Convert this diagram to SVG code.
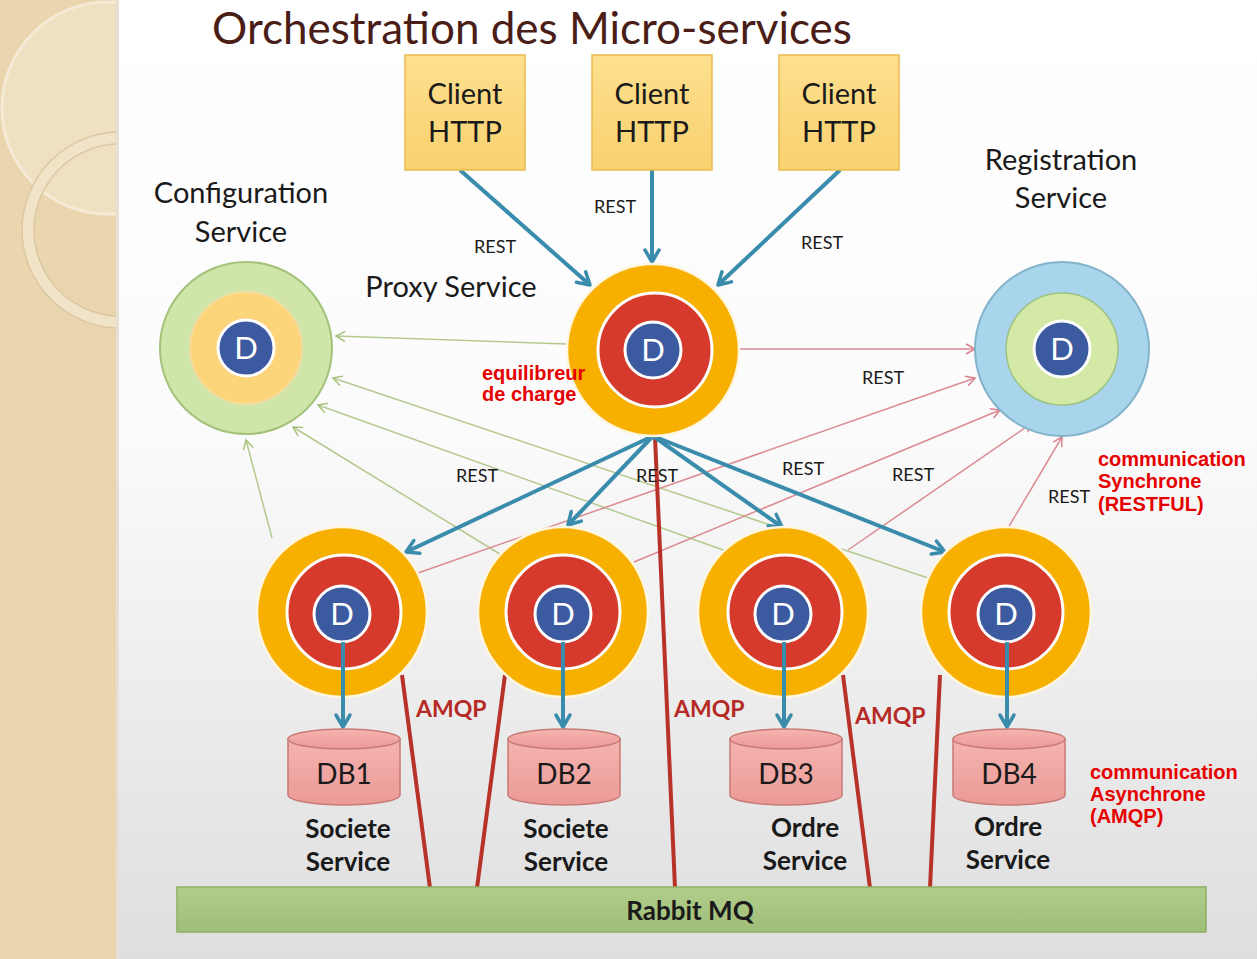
<svg xmlns="http://www.w3.org/2000/svg" width="1257" height="959" viewBox="0 0 1257 959">
<defs>
  <linearGradient id="bg" x1="0" y1="0" x2="0" y2="1">
    <stop offset="0" stop-color="#ffffff"/>
    <stop offset="0.45" stop-color="#fbfbfb"/>
    <stop offset="1" stop-color="#dedede"/>
  </linearGradient>
  <linearGradient id="boxg" x1="0" y1="0" x2="0" y2="1">
    <stop offset="0" stop-color="#fde08e"/>
    <stop offset="1" stop-color="#f9d170"/>
  </linearGradient>
  <linearGradient id="barg" x1="0" y1="0" x2="0" y2="1">
    <stop offset="0" stop-color="#b1cd8a"/>
    <stop offset="1" stop-color="#9fbe78"/>
  </linearGradient>
  <linearGradient id="dbg" x1="0" y1="0" x2="0" y2="1">
    <stop offset="0" stop-color="#f5b4b0"/>
    <stop offset="1" stop-color="#eb9a96"/>
  </linearGradient>
  <clipPath id="lp"><rect x="0" y="0" width="116" height="959"/></clipPath>
  <marker id="ab" viewBox="-15 -10 18 20" refX="0" refY="0" markerWidth="18" markerHeight="20" markerUnits="userSpaceOnUse" orient="auto">
    <path d="M-12,-7 L0,0 L-12,7" fill="none" stroke="#3a8cad" stroke-width="3.5" stroke-linecap="round" stroke-linejoin="round"/>
  </marker>
  <marker id="ag" viewBox="-12 -7 14 14" refX="0" refY="0" markerWidth="14" markerHeight="14" markerUnits="userSpaceOnUse" orient="auto">
    <path d="M-9,-5 L0,0 L-9,5" fill="none" stroke="#a9c07c" stroke-width="1.5"/>
  </marker>
  <marker id="ar" viewBox="-12 -7 14 14" refX="0" refY="0" markerWidth="14" markerHeight="14" markerUnits="userSpaceOnUse" orient="auto">
    <path d="M-9,-5 L0,0 L-9,5" fill="none" stroke="#d9808a" stroke-width="1.5"/>
  </marker>
  <style>
    .lbl{font-family:Lato,"Open Sans","DejaVu Sans",sans-serif;fill:#1a1a1a}
    .big{font-size:29px;text-anchor:middle}
    .rest{font-size:18px;text-anchor:middle}
    .svc{font-size:26px;font-weight:bold;text-anchor:middle}
    .db{font-size:28px;text-anchor:middle}
    .amqp{font-family:Lato,"Open Sans",sans-serif;font-size:23px;font-weight:bold;fill:#b52a24}
    .note{font-family:"Liberation Sans",Arial,sans-serif;font-size:20px;font-weight:bold;fill:#e60000}
    .dtxt{font-family:Lato,"Open Sans",sans-serif;font-size:31px;fill:#ffffff;text-anchor:middle}
    .orange{fill:#f8b000;stroke:#fff6e0;stroke-width:2.5}
    .red{fill:#d63a2d;stroke:#ffffff;stroke-width:3}
    .dball{fill:#3b5aa0;stroke:#ffffff;stroke-width:3}
    .box{fill:url(#boxg);stroke:#e9b94e;stroke-width:1.5}
    .cyl{fill:url(#dbg);stroke:#c77a76;stroke-width:1.5}
    .blue{stroke:#3a8cad;stroke-width:4;fill:none;marker-end:url(#ab)}
    .gl{stroke:#b4c98e;stroke-width:1.5;fill:none;marker-end:url(#ag)}
    .rl{stroke:#dc8a92;stroke-width:1.5;fill:none;marker-end:url(#ar)}
    .mq{stroke:#b8322a;stroke-width:4;fill:none}
  </style>
</defs>

<!-- background -->
<rect x="0" y="0" width="1257" height="959" fill="url(#bg)"/>
<g id="leftpanel" clip-path="url(#lp)">
  <rect x="0" y="0" width="116" height="959" fill="#ead6ae"/>
  <circle cx="108" cy="108" r="106" fill="#efe0c2" stroke="#f5ead5" stroke-width="3"/>
  <circle cx="120" cy="230" r="92" fill="none" stroke="#f0e3c8" stroke-width="12"/>
  <circle cx="120" cy="230" r="98" fill="none" stroke="#dcc7a0" stroke-width="1.5"/>
  <circle cx="120" cy="230" r="86" fill="none" stroke="#dcc7a0" stroke-width="1.5"/>
</g>
<rect x="116" y="0" width="3" height="959" fill="#e6e0d4"/>

<!-- title -->
<text x="532" y="44" font-family="Lato,'Open Sans',sans-serif" font-size="44" fill="#4a1d16" text-anchor="middle">Orchestration des Micro-services</text>

<!-- connectors -->
<g id="connectors">
  <!-- green thin lines to Configuration Service -->
  <line class="gl" x1="567" y1="344" x2="336" y2="336"/>
  <line class="gl" x1="272" y1="538" x2="246" y2="440"/>
  <line class="gl" x1="503" y1="556" x2="293" y2="427"/>
  <line class="gl" x1="726" y1="551" x2="318" y2="405"/>
  <line class="gl" x1="928" y1="578" x2="333" y2="378"/>
  <!-- red thin lines to Registration Service -->
  <line class="rl" x1="740" y1="349" x2="975" y2="349"/>
  <line class="rl" x1="418" y1="573" x2="975" y2="378"/>
  <line class="rl" x1="634" y1="562" x2="1000" y2="410"/>
  <line class="rl" x1="848" y1="550" x2="1032" y2="423"/>
  <line class="rl" x1="1008" y1="528" x2="1062" y2="437"/>
  <!-- clients to proxy -->
  <line class="blue" x1="460" y1="170" x2="590" y2="285"/>
  <line class="blue" x1="652" y1="170" x2="652" y2="262"/>
  <line class="blue" x1="840" y1="170" x2="718" y2="285"/>
  <!-- AMQP lines -->
  <line class="mq" x1="655" y1="437" x2="675" y2="888"/>
  <line class="mq" x1="402" y1="675" x2="430" y2="888"/>
  <line class="mq" x1="505" y1="675" x2="477" y2="888"/>
  <line class="mq" x1="843" y1="675" x2="870" y2="888"/>
  <line class="mq" x1="940" y1="675" x2="930" y2="888"/>
  <!-- proxy to services -->
  <line class="blue" x1="653" y1="436" x2="406" y2="552"/>
  <line class="blue" x1="653" y1="436" x2="568" y2="525"/>
  <line class="blue" x1="653" y1="436" x2="782" y2="527"/>
  <line class="blue" x1="653" y1="436" x2="945" y2="552"/>
  <!-- labels -->
  <text class="lbl rest" x="495" y="253">REST</text>
  <text class="lbl rest" x="615" y="213">REST</text>
  <text class="lbl rest" x="822" y="249">REST</text>
  <text class="lbl rest" x="883" y="384">REST</text>
  <text class="lbl rest" x="477" y="482">REST</text>
  <text class="lbl rest" x="657" y="482">REST</text>
  <text class="lbl rest" x="803" y="475">REST</text>
  <text class="lbl rest" x="913" y="481">REST</text>
  <text class="lbl rest" x="1069" y="503">REST</text>
  <text class="amqp" x="416" y="717">AMQP</text>
  <text class="amqp" x="674" y="717">AMQP</text>
  <text class="amqp" x="855" y="724">AMQP</text>
</g>

<!-- clients -->
<g id="client1">
  <rect class="box" x="405" y="55" width="120" height="115"/>
  <text class="lbl big" x="465" y="104">Client</text>
  <text class="lbl big" x="465" y="142">HTTP</text>
</g>
<g id="client2">
  <rect class="box" x="592" y="55" width="120" height="115"/>
  <text class="lbl big" x="652" y="104">Client</text>
  <text class="lbl big" x="652" y="142">HTTP</text>
</g>
<g id="client3">
  <rect class="box" x="779" y="55" width="120" height="115"/>
  <text class="lbl big" x="839" y="104">Client</text>
  <text class="lbl big" x="839" y="142">HTTP</text>
</g>

<!-- configuration service -->
<g id="config">
  <text class="lbl big" x="241" y="203" font-size="28">Configuration</text>
  <text class="lbl big" x="241" y="242" font-size="28">Service</text>
  <circle cx="246" cy="348" r="86" fill="#cfe5aa" stroke="#a3c27a" stroke-width="2"/>
  <circle cx="246" cy="348" r="56" fill="#fcd57a" stroke="#f3dca0" stroke-width="2"/>
  <circle class="dball" cx="246" cy="348" r="28"/>
  <text class="dtxt" x="246" y="359">D</text>
</g>

<!-- proxy service -->
<g id="proxy">
  <text class="lbl big" x="451" y="297" font-size="28">Proxy Service</text>
  <circle class="orange" cx="653" cy="350" r="86"/>
  <circle class="red" cx="655" cy="350" r="57"/>
  <circle class="dball" cx="653" cy="350" r="28"/>
  <text class="dtxt" x="653" y="361">D</text>
  <text class="note" x="482" y="380">equilibreur</text>
  <text class="note" x="482" y="401">de charge</text>
</g>

<!-- registration service -->
<g id="registration">
  <text class="lbl big" x="1061" y="170" font-size="28">Registration</text>
  <text class="lbl big" x="1061" y="208" font-size="28">Service</text>
  <circle cx="1062" cy="349" r="87" fill="#a9d5ec" stroke="#82b3cb" stroke-width="2"/>
  <circle cx="1062" cy="349" r="56" fill="#d5e9a6" stroke="#9cc283" stroke-width="1.5"/>
  <circle class="dball" cx="1062" cy="349" r="28"/>
  <text class="dtxt" x="1062" y="360">D</text>
</g>

<!-- micro-services -->
<g id="svc1">
  <circle class="orange" cx="342" cy="612" r="85"/>
  <circle class="red" cx="344" cy="612" r="57"/>
  <circle class="dball" cx="342" cy="614" r="28"/>
  <text class="dtxt" x="342" y="625">D</text>
</g>
<g id="svc2">
  <circle class="orange" cx="563" cy="612" r="85"/>
  <circle class="red" cx="563" cy="612" r="57"/>
  <circle class="dball" cx="563" cy="614" r="28"/>
  <text class="dtxt" x="563" y="625">D</text>
</g>
<g id="svc3">
  <circle class="orange" cx="783" cy="612" r="85"/>
  <circle class="red" cx="785" cy="612" r="57"/>
  <circle class="dball" cx="783" cy="614" r="28"/>
  <text class="dtxt" x="783" y="625">D</text>
</g>
<g id="svc4">
  <circle class="orange" cx="1006" cy="612" r="85"/>
  <circle class="red" cx="1006" cy="612" r="57"/>
  <circle class="dball" cx="1006" cy="614" r="28"/>
  <text class="dtxt" x="1006" y="625">D</text>
</g>

<!-- service to database arrows -->
<g id="dbarrows">
  <line class="blue" x1="343" y1="642" x2="343" y2="727"/>
  <line class="blue" x1="563" y1="642" x2="563" y2="727"/>
  <line class="blue" x1="784" y1="642" x2="784" y2="727"/>
  <line class="blue" x1="1007" y1="642" x2="1007" y2="727"/>
</g>

<!-- databases -->
<g id="db1">
  <path class="cyl" d="M288,739 L288,795 A56,10 0 0 0 400,795 L400,739 Z"/>
  <ellipse class="cyl" cx="344" cy="739" rx="56" ry="10"/>
  <text class="lbl db" x="344" y="784">DB1</text>
  <text class="lbl svc" x="348" y="838">Societe</text>
  <text class="lbl svc" x="348" y="871">Service</text>
</g>
<g id="db2">
  <path class="cyl" d="M508,739 L508,795 A56,10 0 0 0 620,795 L620,739 Z"/>
  <ellipse class="cyl" cx="564" cy="739" rx="56" ry="10"/>
  <text class="lbl db" x="564" y="784">DB2</text>
  <text class="lbl svc" x="566" y="838">Societe</text>
  <text class="lbl svc" x="566" y="871">Service</text>
</g>
<g id="db3">
  <path class="cyl" d="M730,739 L730,795 A56,10 0 0 0 842,795 L842,739 Z"/>
  <ellipse class="cyl" cx="786" cy="739" rx="56" ry="10"/>
  <text class="lbl db" x="786" y="784">DB3</text>
  <text class="lbl svc" x="805" y="837">Ordre</text>
  <text class="lbl svc" x="805" y="870">Service</text>
</g>
<g id="db4">
  <path class="cyl" d="M953,739 L953,795 A56,10 0 0 0 1065,795 L1065,739 Z"/>
  <ellipse class="cyl" cx="1009" cy="739" rx="56" ry="10"/>
  <text class="lbl db" x="1009" y="784">DB4</text>
  <text class="lbl svc" x="1008" y="836">Ordre</text>
  <text class="lbl svc" x="1008" y="869">Service</text>
</g>

<!-- rabbit mq -->
<g id="rabbitmq">
  <rect x="177" y="887" width="1029" height="45" fill="url(#barg)" stroke="#8eae66" stroke-width="1.5"/>
  <text class="lbl svc" x="690" y="920">Rabbit MQ</text>
</g>

<!-- annotations -->
<g id="notes">
  <text class="note" x="1098" y="466">communication</text>
  <text class="note" x="1098" y="488">Synchrone</text>
  <text class="note" x="1098" y="511">(RESTFUL)</text>
  <text class="note" x="1090" y="779">communication</text>
  <text class="note" x="1090" y="801">Asynchrone</text>
  <text class="note" x="1090" y="823">(AMQP)</text>
</g>
</svg>
